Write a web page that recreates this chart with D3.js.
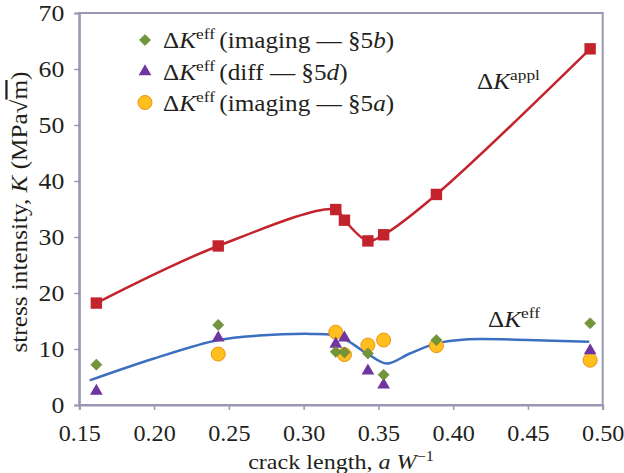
<!DOCTYPE html>
<html><head><meta charset="utf-8">
<script src="https://cdn.jsdelivr.net/npm/d3@7"></script>
<style>
body{margin:0;background:#fff;}
svg text{font-family:"Liberation Serif","Times New Roman",serif;fill:#231f20;}
</style></head>
<body><svg id="c" width="624" height="473"></svg>
<script>
// ---- data ----
const xTicks = [0.15,0.20,0.25,0.30,0.35,0.40,0.45,0.50];
const yTicks = [0,10,20,30,40,50,60,70];
const applX = [0.1614,0.2429,0.3215,0.3273,0.3430,0.3535,0.3888,0.4916];
const applY = [18.2,28.4,34.9,33.0,29.3,30.4,37.6,63.6];
const imgB_X = [0.1614,0.2429,0.3215,0.3273,0.3430,0.3535,0.3888,0.4916];
const imgB_Y = [7.2,14.3,9.5,9.4,9.2,5.4,11.6,14.6];
const diff_X = [0.1614,0.2429,0.3215,0.3273,0.3430,0.3535,0.4916];
const diff_Y = [2.5,12.0,10.9,12.0,6.1,3.6,9.7];
const imgA_X = [0.2429,0.3215,0.3273,0.3430,0.3535,0.3888,0.4916];
const imgA_Y = [9.1,13.0,9.0,10.7,11.6,10.6,8.0];
const effX = [0.157,0.200,0.243,0.270,0.305,0.320,0.3273,0.343,0.3556,0.371,0.389,0.408,0.450,0.491];
const effY = [4.4,8.3,11.6,12.4,12.7,12.5,11.8,9.1,7.4,9.2,11.0,11.7,11.6,11.3];
const legendLabels = [
  {pre:"(imaging — §5", it:"b", post:")"},
  {pre:"(diff — §5", it:"d", post:")"},
  {pre:"(imaging — §5", it:"a", post:")"}
];

const SX = 1.12; // horizontal stretch of the reference typeface
const SXT = 1.05;
const svg = d3.select("#c");
const L=79.3,R=602.7,T=13,B=405;
const x = d3.scaleLinear().domain([0.15,0.50]).range([L,R]);
const y = d3.scaleLinear().domain([0,70]).range([B,T]);
const frame="#9a97b3";

svg.append("rect").attr("x",L).attr("y",T).attr("width",R-L).attr("height",B-T)
  .attr("fill","none").attr("stroke",frame).attr("stroke-width",2);

const xa = svg.append("g").attr("transform",`translate(0,${B})`)
  .call(d3.axisBottom(x).tickValues(xTicks).tickFormat(d3.format(".2f")).tickSize(5).tickPadding(15));
const ya = svg.append("g").attr("transform",`translate(${L},0)`)
  .call(d3.axisLeft(y).tickValues(yTicks).tickSize(5).tickPadding(10));
[xa,ya].forEach(a=>{
  a.select(".domain").attr("stroke",frame).attr("stroke-width",2);
  a.selectAll(".tick line").attr("stroke",frame).attr("stroke-width",1.5);
  a.selectAll("text").attr("font-size",23).attr("font-family","Liberation Serif").attr("fill","#231f20");
});
xa.selectAll(".tick text").attr("transform",`scale(${SXT},1)`);
ya.selectAll(".tick text").attr("x",-15/SX).attr("transform",`scale(${SX},1)`);

const line = d3.line().curve(d3.curveCatmullRom.alpha(0.5));
svg.append("path").attr("d",line(effX.map((v,i)=>[x(v),y(effY[i])])))
  .attr("fill","none").attr("stroke","#3d6fc0").attr("stroke-width",2.5);
svg.append("path").attr("d",line(applX.map((v,i)=>[x(v),y(applY[i])])))
  .attr("fill","none").attr("stroke","#c3232c").attr("stroke-width",2.5);

const sq = d3.symbol().type(d3.symbolSquare).size(130);
svg.append("g").selectAll("path").data(applX).join("path")
  .attr("d",sq).attr("transform",(d,i)=>`translate(${x(d)},${y(applY[i])})`)
  .attr("fill","#c3232c");
const dia = d3.symbol().type(d3.symbolDiamond2).size(80);
const tri = d3.symbol().type(d3.symbolTriangle).size(70);
function diamond(g){g.attr("d",dia).attr("fill","#72943a").attr("stroke","#5f7f2e").attr("stroke-width",0.5);}
function triangle(g){g.attr("d",tri).attr("fill","#6f35a0");}
function circle(g){g.attr("r",7).attr("fill","#ffbf1f").attr("stroke","#f0900f").attr("stroke-width",1);}

svg.append("g").selectAll("circle").data(imgA_X).join("circle")
  .attr("cx",d=>x(d)).attr("cy",(d,i)=>y(imgA_Y[i])).call(circle);
svg.append("g").selectAll("path").data(diff_X).join("path")
  .attr("transform",(d,i)=>`translate(${x(d)},${y(diff_Y[i])})`).call(triangle);
svg.append("g").selectAll("path").data(imgB_X).join("path")
  .attr("transform",(d,i)=>`translate(${x(d)},${y(imgB_Y[i])})`).call(diamond);

function txt(px,py,size,extra){
  return svg.append("text").attr("transform",`translate(${px},${py})${extra||""} scale(${SX},1)`)
    .attr("font-size",size);
}

const legY=[40,71.5,102.5];
const mk=[diamond,triangle,null];
legendLabels.forEach((lab,i)=>{
  if(i<2) svg.append("path").attr("transform",`translate(145,${legY[i]})`).call(mk[i]);
  else svg.append("circle").attr("cx",145).attr("cy",legY[i]).call(circle);
  const t=txt(163,legY[i]+8,22.5);
  t.append("tspan").text("Δ");
  t.append("tspan").attr("font-style","italic").text("K");
  t.append("tspan").attr("font-size",15.5).attr("dy",-9).text("eff ");
  t.append("tspan").attr("dy",9).text(lab.pre);
  t.append("tspan").attr("font-style","italic").text(lab.it);
  t.append("tspan").text(lab.post);
});

function deltaK(px,py,sup){
  const t=txt(px,py,22.5);
  t.append("tspan").text("Δ");
  t.append("tspan").attr("font-style","italic").text("K");
  t.append("tspan").attr("font-size",15.5).attr("dy",-9).text(sup);
}
deltaK(477,89,"appl");
deltaK(488,327,"eff");

const xt=txt(341,469,21.5).attr("text-anchor","middle");
xt.append("tspan").text("crack length, ");
xt.append("tspan").attr("font-style","italic").text("a W");
xt.append("tspan").attr("font-size",14.5).attr("dy",-8).text("−1");

const yt=svg.append("text").attr("transform",`translate(27,212) rotate(-90) scale(${SX},1)`)
  .attr("text-anchor","middle").attr("font-size",22.5);
yt.append("tspan").text("stress intensity, ");
yt.append("tspan").attr("font-style","italic").text("K");
yt.append("tspan").text(" (MPa√");
yt.append("tspan").attr("text-decoration","overline").text("m");
yt.append("tspan").text(")");
</script></body></html>
